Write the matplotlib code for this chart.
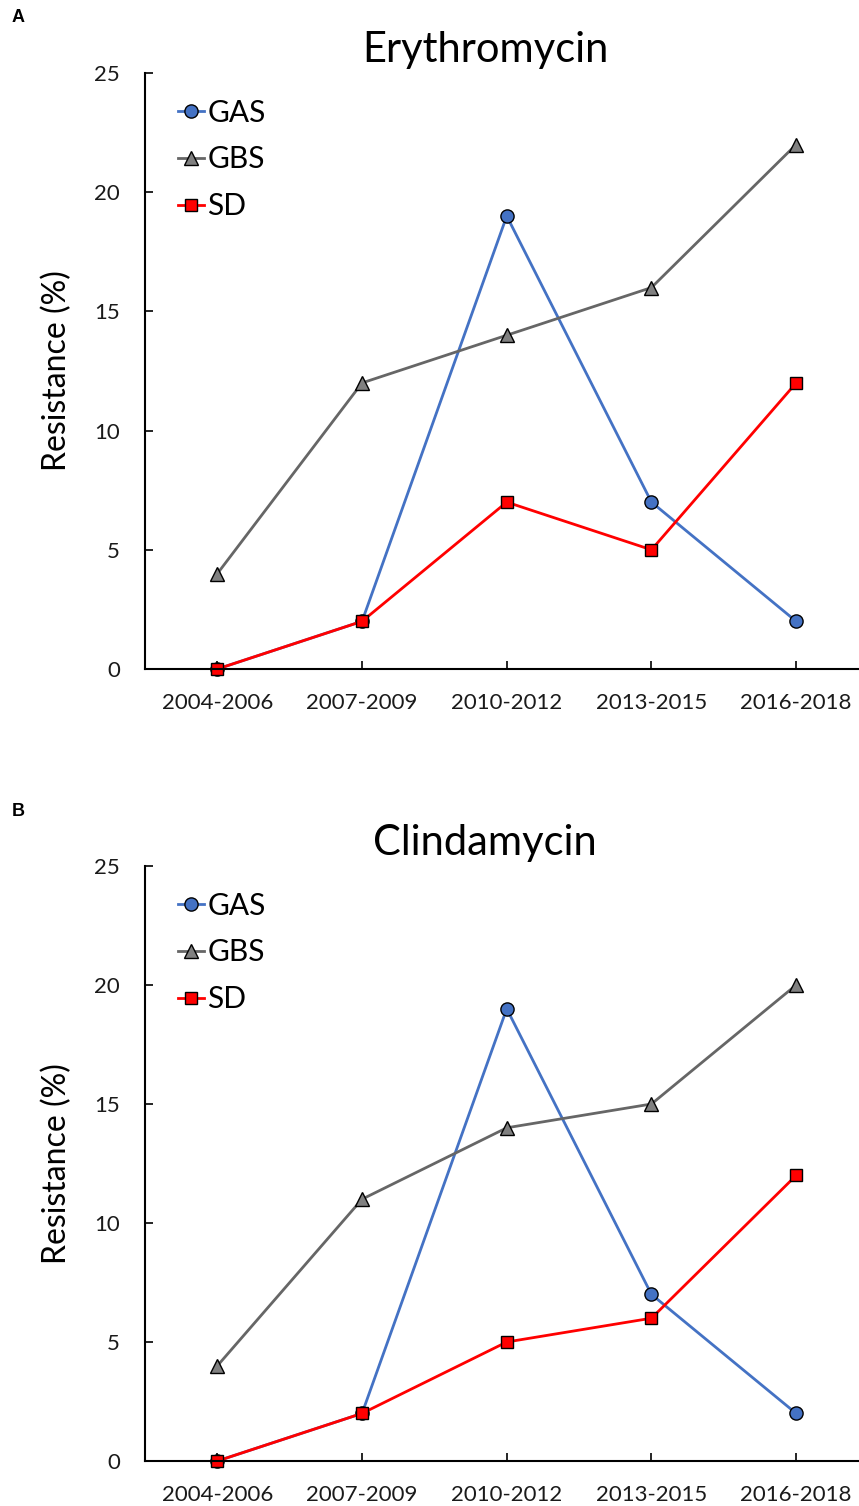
import matplotlib.pyplot as plt

plt.rcParams['font.family'] = ['Lato', 'DejaVu Sans']

# --------------------
# Data
# --------------------
periods = ["2004-2006", "2007-2009", "2010-2012", "2013-2015", "2016-2018"]

ery_gas = [0, 2, 19, 7, 2]
ery_gbs = [4, 12, 14, 16, 22]
ery_sd = [0, 2, 7, 5, 12]

cli_gas = [0, 2, 19, 7, 2]
cli_gbs = [4, 11, 14, 15, 20]
cli_sd = [0, 2, 5, 6, 12]

panels = [
    ("A", "Erythromycin", ery_gas, ery_gbs, ery_sd),
    ("B", "Clindamycin", cli_gas, cli_gbs, cli_sd),
]

# --------------------
# Plot
# --------------------
fig = plt.figure(figsize=(8.59, 15.06), dpi=100)

W, H = 859, 1506
# (y pixel of value 25, y pixel of value 0) for each panel
boxes = [(73, 669), (866, 1461)]
x_left = 145
cat_w = 144.7

x = list(range(len(periods)))

for (letter, title, gas, gbs, sd), (top, bot) in zip(panels, boxes):
    ax = fig.add_axes([x_left / W, 1 - bot / H, 5 * cat_w / W, (bot - top) / H])

    ax.plot(x, gas, color="#4472C4", lw=2, marker="o", ms=9.5,
            mfc="#4472C4", mec="black", mew=1, label="GAS", clip_on=False)
    ax.plot(x, gbs, color="#666666", lw=2, marker="^", ms=9.5,
            mfc="#808080", mec="black", mew=1, label="GBS", clip_on=False)
    ax.plot(x, sd, color="#FF0000", lw=2, marker="s", ms=9,
            mfc="#FF0000", mec="black", mew=1, label="SD", clip_on=False)

    ax.set_xlim(-0.5, 4.5)
    ax.set_ylim(0, 25)
    ax.set_yticks([0, 5, 10, 15, 20, 25])
    ax.set_xticks(x)
    ax.set_xticklabels(periods)
    ax.tick_params(axis="both", direction="in", length=6, width=1.2,
                   labelsize=16, colors="black", labelcolor="#1a1a1a")
    ax.tick_params(axis="x", pad=17)
    ax.tick_params(axis="y", pad=18)

    for s in ["top", "right"]:
        ax.spines[s].set_visible(False)
    for s in ["left", "bottom"]:
        ax.spines[s].set_linewidth(1.5)

    ax.set_ylabel("Resistance (%)", fontsize=23, labelpad=16)
    ax.set_title(title, fontsize=30, pad=8, x=0.47)

    ax.legend(loc="upper left", bbox_to_anchor=(0.045, 0.957), frameon=False,
              fontsize=21.5, handlelength=0.9, handletextpad=0.1,
              labelspacing=0.63, borderaxespad=0, borderpad=0)

    fig.text(12 / W, 1 - (top - 55) / H, letter, fontsize=13, fontweight="bold",
             family="Liberation Sans", va="center", ha="left")

fig.savefig("out.png", dpi=100)
